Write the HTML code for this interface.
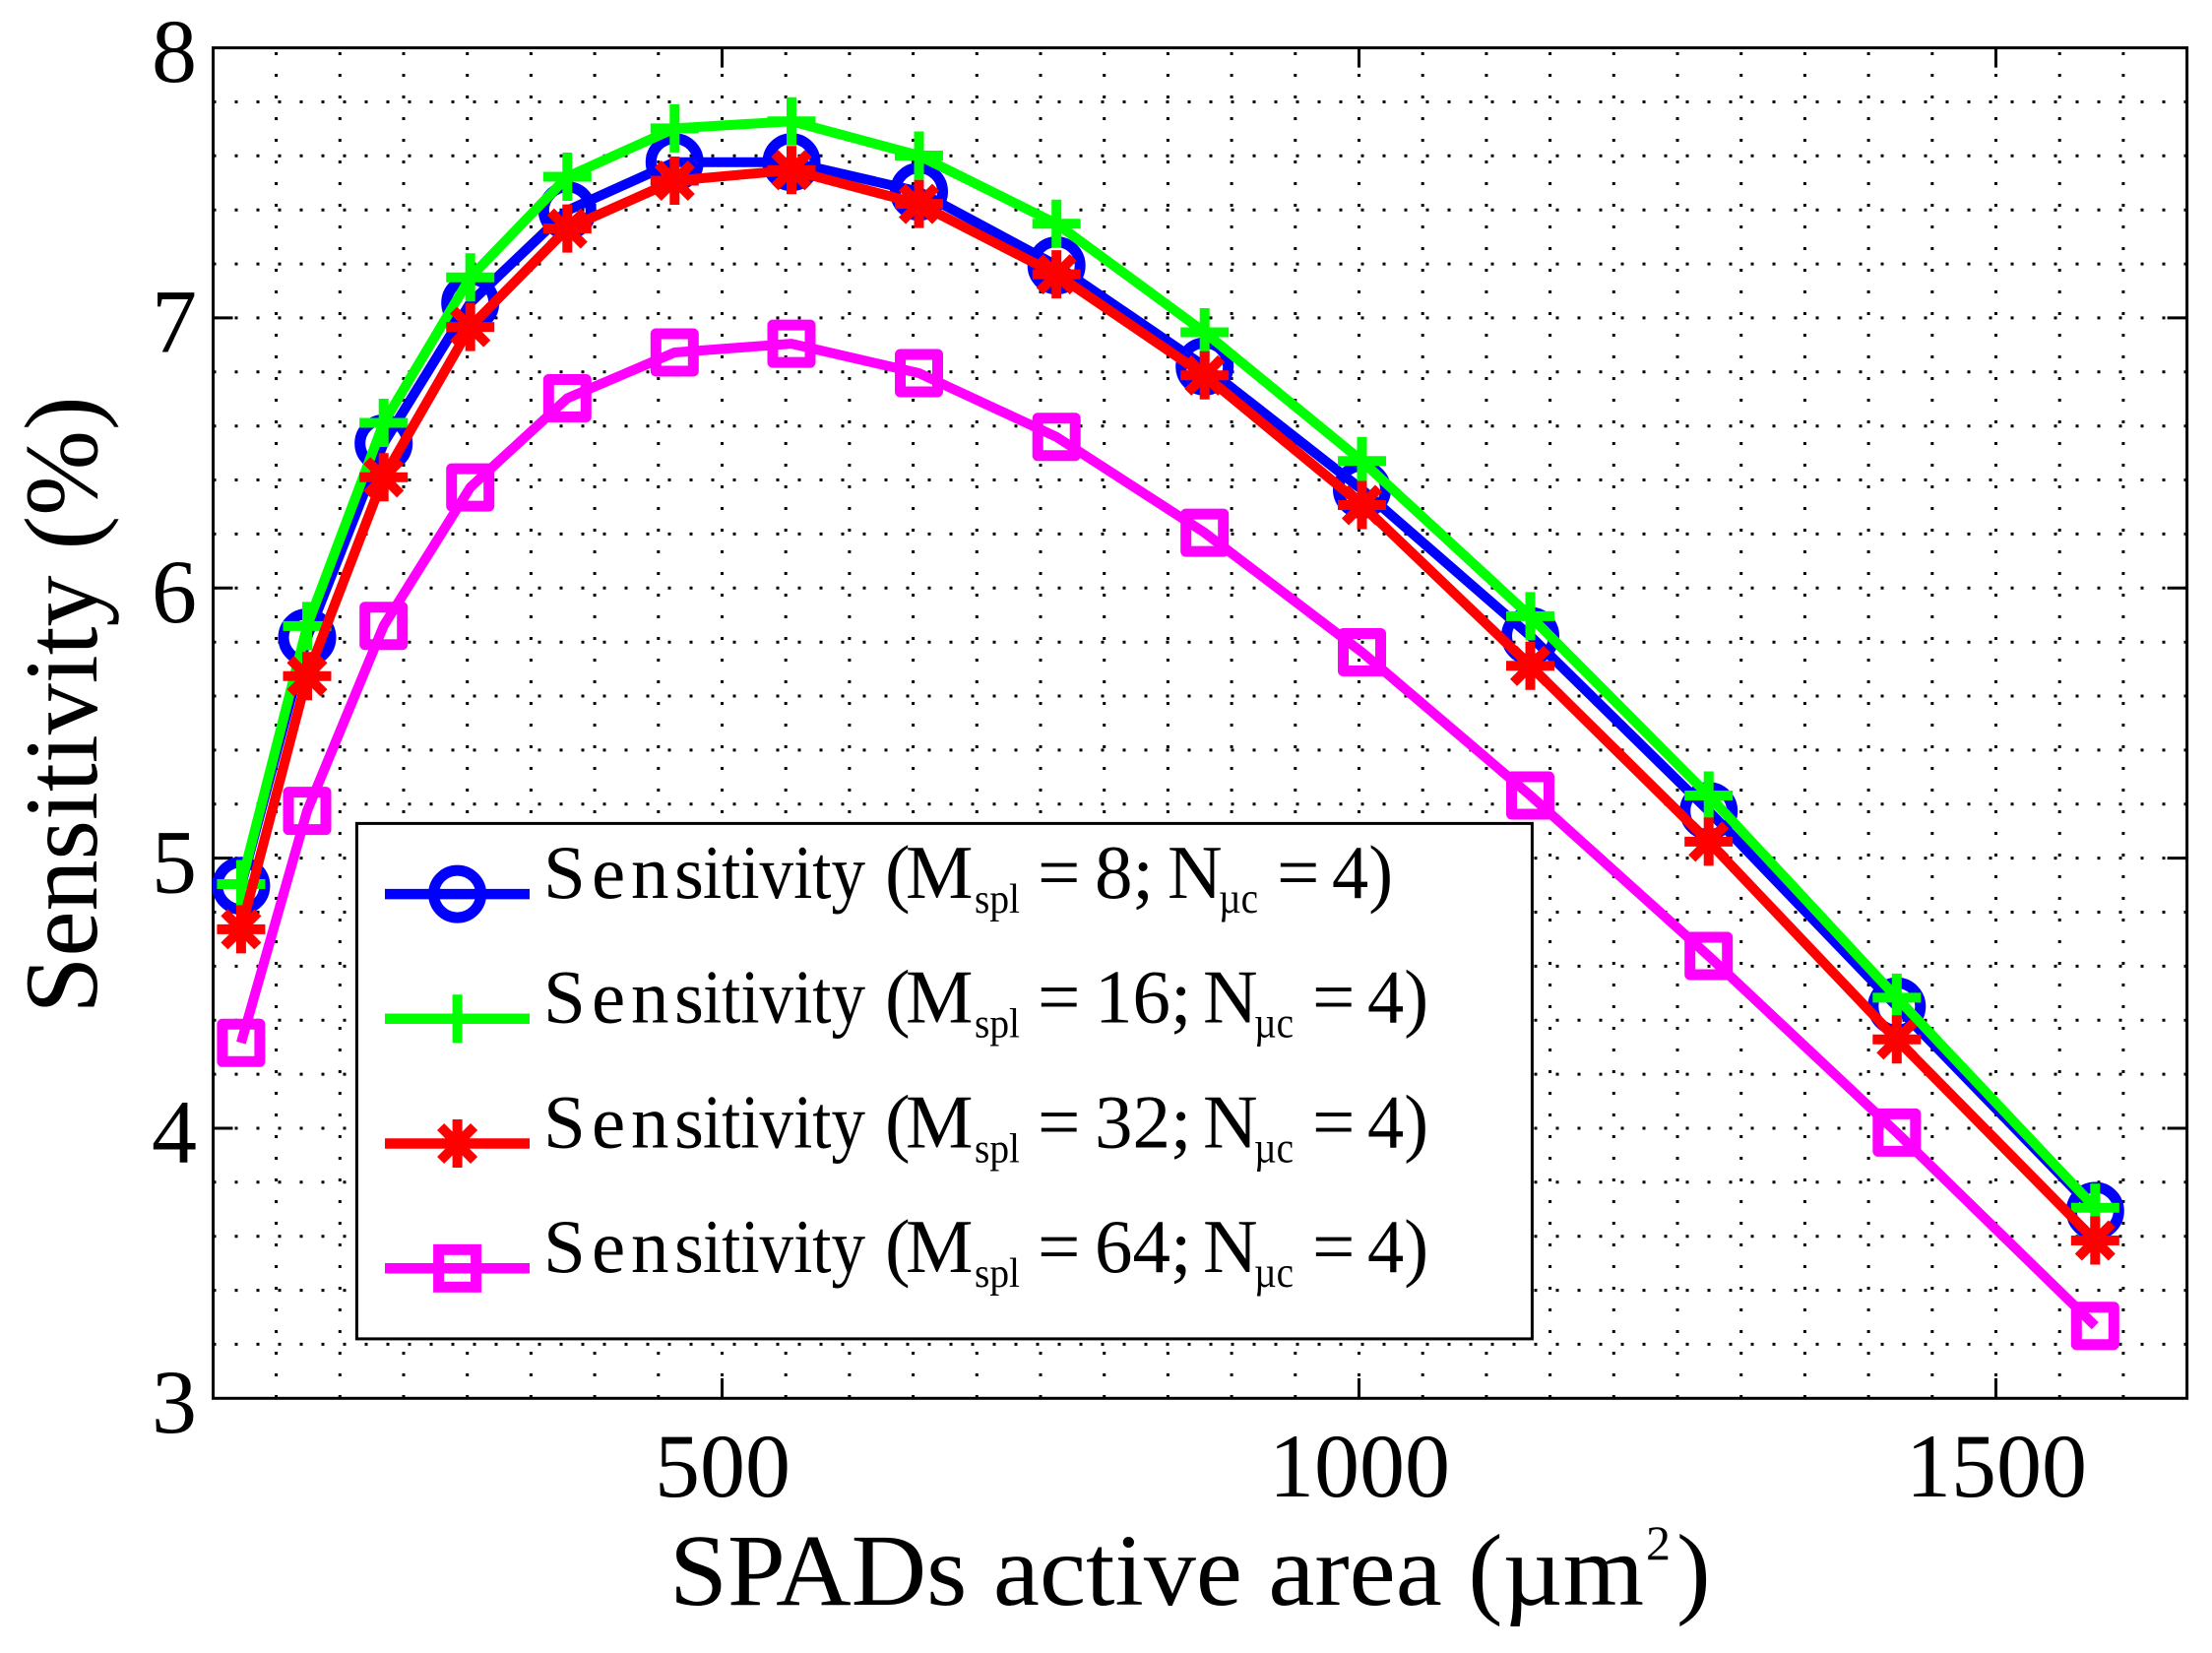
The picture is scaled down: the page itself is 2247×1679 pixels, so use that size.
<!DOCTYPE html>
<html><head><meta charset="utf-8"><style>
html,body{margin:0;padding:0;background:#fff;}
svg{display:block;}
text{font-family:"Liberation Serif","Times New Roman",serif;fill:#000;}
</style></head><body>
<svg xmlns="http://www.w3.org/2000/svg" width="2247" height="1679" viewBox="0 0 2247 1679">
<defs>
<circle id="mc" r="24" fill="none" stroke-width="11"/>
<path id="mp" d="M-24.5 0H24.5M0-24.5V24.5" fill="none" stroke-width="10"/>
<path id="ms" d="M-24.5 0H24.5M0-24.5V24.5M-17-17L17 17M-17 17L17-17" fill="none" stroke-width="10"/>
<rect id="mq" x="-19" y="-19" width="38" height="38" fill="none" stroke-width="11"/>
</defs>
<rect width="2247" height="1679" fill="#fff"/>
<!-- grid -->
<g stroke="#000" stroke-width="3" stroke-dasharray="3 19" fill="none">
<path d="M280.6 1420V49M345.3 1420V49M410 1420V49M474.7 1420V49M539.4 1420V49M604.1 1420V49M668.8 1420V49M733.5 1420V49M798.2 1420V49M862.9 1420V49M927.6 1420V49M992.3 1420V49M1057 1420V49M1121.7 1420V49M1186.4 1420V49M1251.1 1420V49M1315.8 1420V49M1380.5 1420V49M1445.2 1420V49M1509.9 1420V49M1574.6 1420V49M1639.3 1420V49M1704 1420V49M1768.7 1420V49M1833.4 1420V49M1898.1 1420V49M1962.8 1420V49M2027.5 1420V49M2092.2 1420V49M2156.9 1420V49"/>
<path d="M216.5 1365.4H2221M216.5 1310.6H2221M216.5 1255.7H2221M216.5 1200.8H2221M216.5 1146H2221M216.5 1091.1H2221M216.5 1036.2H2221M216.5 981.4H2221M216.5 926.5H2221M216.5 871.6H2221M216.5 816.8H2221M216.5 761.9H2221M216.5 707H2221M216.5 652.2H2221M216.5 597.3H2221M216.5 542.4H2221M216.5 487.5H2221M216.5 432.7H2221M216.5 377.8H2221M216.5 322.9H2221M216.5 268.1H2221M216.5 213.2H2221M216.5 158.3H2221M216.5 103.5H2221"/>
</g>
<!-- axes frame and ticks -->
<rect x="216.5" y="48.6" width="2005.1" height="1371.7" fill="none" stroke="#000" stroke-width="3"/>
<g stroke="#000" stroke-width="3">
<path d="M733.5 1420V1400M1380.5 1420V1400M2027.5 1420V1400M733.5 48.6V68.6M1380.5 48.6V68.6M2027.5 48.6V68.6"/>
<path d="M216.5 1146H236.5M216.5 871.6H236.5M216.5 597.3H236.5M216.5 322.9H236.5M2221.6 1146H2201.6M2221.6 871.6H2201.6M2221.6 597.3H2201.6M2221.6 322.9H2201.6"/>
</g>
<!-- tick labels -->
<g font-size="92" text-anchor="end">
<text x="200" y="1455">3</text>
<text x="200" y="1181">4</text>
<text x="200" y="906.5">5</text>
<text x="200" y="632">6</text>
<text x="200" y="357.5">7</text>
<text x="200" y="83">8</text>
</g>
<g font-size="92" text-anchor="middle">
<text x="734" y="1520">500</text>
<text x="1381" y="1520">1000</text>
<text x="2028" y="1520">1500</text>
</g>
<!-- axis labels -->
<text x="680" y="1630" font-size="104" textLength="990" lengthAdjust="spacingAndGlyphs">SPADs active area (µm</text>
<text x="1672" y="1584" font-size="50">2</text>
<text x="1703" y="1630" font-size="104">)</text>
<text transform="translate(98,716) rotate(-90)" text-anchor="middle" font-size="106" textLength="627" lengthAdjust="spacingAndGlyphs">Sensitivity (%)</text>
<!-- series -->
<g fill="none" stroke-linejoin="round">
<polyline stroke="#0000ff" stroke-width="10" points="244.9,899.7 312,647.5 389.7,450.4 477.7,307.6 576.3,213.8 685.3,164.7 804,164.7 933.5,194.6 1073.2,269.6 1223.7,372.3 1383.5,497.3 1554.5,646 1735.7,823.7 1926.8,1022.3 2128.3,1230"/>
<g stroke="#0000ff">
<use href="#mc" x="244.9" y="899.7"/><use href="#mc" x="312" y="647.5"/><use href="#mc" x="389.7" y="450.4"/><use href="#mc" x="477.7" y="307.6"/><use href="#mc" x="576.3" y="213.8"/><use href="#mc" x="685.3" y="164.7"/><use href="#mc" x="804" y="164.7"/><use href="#mc" x="933.5" y="194.6"/><use href="#mc" x="1073.2" y="269.6"/><use href="#mc" x="1223.7" y="372.3"/><use href="#mc" x="1383.5" y="497.3"/><use href="#mc" x="1554.5" y="646"/><use href="#mc" x="1735.7" y="823.7"/><use href="#mc" x="1926.8" y="1022.3"/><use href="#mc" x="2128.3" y="1230"/>
</g>
<polyline stroke="#00ff00" stroke-width="10" points="244.9,898 312,635.9 389.7,429.5 477.7,281.7 576.3,179.5 685.3,130.4 804,123.2 933.5,158 1073.2,227.2 1223.7,337.5 1383.5,468.3 1554.5,625.9 1735.7,808 1926.8,1013.4 2128.3,1226.7"/>
<g stroke="#00ff00">
<use href="#mp" x="244.9" y="898"/><use href="#mp" x="312" y="635.9"/><use href="#mp" x="389.7" y="429.5"/><use href="#mp" x="477.7" y="281.7"/><use href="#mp" x="576.3" y="179.5"/><use href="#mp" x="685.3" y="130.4"/><use href="#mp" x="804" y="123.2"/><use href="#mp" x="933.5" y="158"/><use href="#mp" x="1073.2" y="227.2"/><use href="#mp" x="1223.7" y="337.5"/><use href="#mp" x="1383.5" y="468.3"/><use href="#mp" x="1554.5" y="625.9"/><use href="#mp" x="1735.7" y="808"/><use href="#mp" x="1926.8" y="1013.4"/><use href="#mp" x="2128.3" y="1226.7"/>
</g>
<polyline stroke="#ff0000" stroke-width="10" points="244.9,943.9 312,686.8 389.7,484.8 477.7,332.1 576.3,232.1 685.3,183.5 804,172.8 933.5,207.1 1073.2,278.6 1223.7,381.3 1383.5,513 1554.5,676.3 1735.7,854.9 1926.8,1055.8 2128.3,1260"/>
<g stroke="#ff0000">
<use href="#ms" x="244.9" y="943.9"/><use href="#ms" x="312" y="686.8"/><use href="#ms" x="389.7" y="484.8"/><use href="#ms" x="477.7" y="332.1"/><use href="#ms" x="576.3" y="232.1"/><use href="#ms" x="685.3" y="183.5"/><use href="#ms" x="804" y="172.8"/><use href="#ms" x="933.5" y="207.1"/><use href="#ms" x="1073.2" y="278.6"/><use href="#ms" x="1223.7" y="381.3"/><use href="#ms" x="1383.5" y="513"/><use href="#ms" x="1554.5" y="676.3"/><use href="#ms" x="1735.7" y="854.9"/><use href="#ms" x="1926.8" y="1055.8"/><use href="#ms" x="2128.3" y="1260"/>
</g>
<polyline stroke="#ff00ff" stroke-width="10" points="244.9,1059.3 312,823.6 389.7,635.7 477.7,495.1 576.3,404.5 685.3,358 804,349.1 933.5,379 1073.2,443.8 1223.7,541.1 1383.5,662.5 1554.5,808 1735.7,971 1926.8,1150.4 2128.3,1346.7"/>
<g stroke="#ff00ff">
<use href="#mq" x="244.9" y="1059.3"/><use href="#mq" x="312" y="823.6"/><use href="#mq" x="389.7" y="635.7"/><use href="#mq" x="477.7" y="495.1"/><use href="#mq" x="576.3" y="404.5"/><use href="#mq" x="685.3" y="358"/><use href="#mq" x="804" y="349.1"/><use href="#mq" x="933.5" y="379"/><use href="#mq" x="1073.2" y="443.8"/><use href="#mq" x="1223.7" y="541.1"/><use href="#mq" x="1383.5" y="662.5"/><use href="#mq" x="1554.5" y="808"/><use href="#mq" x="1735.7" y="971"/><use href="#mq" x="1926.8" y="1150.4"/><use href="#mq" x="2128.3" y="1346.7"/>
</g>
</g>
<!-- legend -->
<rect x="362.4" y="836.4" width="1194" height="523.5" fill="#fff" stroke="#000" stroke-width="3"/>
<g fill="none">
<path d="M391 908.1H538" stroke="#0000ff" stroke-width="10.5"/>
<use href="#mc" x="464.6" y="908.1" stroke="#0000ff"/>
<path d="M391 1034.8H538" stroke="#00ff00" stroke-width="10.5"/>
<use href="#mp" x="464.6" y="1034.8" stroke="#00ff00"/>
<path d="M391 1161.5H538" stroke="#ff0000" stroke-width="10.5"/>
<use href="#ms" x="464.6" y="1161.5" stroke="#ff0000"/>
<path d="M391 1288.3H538" stroke="#ff00ff" stroke-width="10.5"/>
<use href="#mq" x="464.6" y="1288.3" stroke="#ff00ff"/>
</g>
<g font-size="77">
<!-- row 1 -->
<text x="552" y="912">S</text><text x="601" y="912">e</text><text x="641" y="912">n</text><text x="685" y="912">s</text>
<text x="714" y="912" textLength="165" lengthAdjust="spacingAndGlyphs">itivity</text>
<text x="899" y="912">(</text>
<text x="920" y="912">M</text>
<text x="990" y="927" font-size="42" textLength="46" lengthAdjust="spacingAndGlyphs">spl</text>
<text x="1054" y="912">=</text>
<text x="1112" y="912">8;</text>
<text x="1186" y="912">N</text>
<text x="1238" y="927" font-size="44" textLength="40" lengthAdjust="spacingAndGlyphs">µc</text>
<text x="1297" y="912">=</text>
<text x="1353" y="912" textLength="62" lengthAdjust="spacingAndGlyphs">4)</text>
<!-- row 2 -->
<text x="552" y="1038.7">S</text><text x="601" y="1038.7">e</text><text x="641" y="1038.7">n</text><text x="685" y="1038.7">s</text>
<text x="714" y="1038.7" textLength="165" lengthAdjust="spacingAndGlyphs">itivity</text>
<text x="899" y="1038.7">(</text>
<text x="920" y="1038.7">M</text>
<text x="990" y="1053.7" font-size="42" textLength="46" lengthAdjust="spacingAndGlyphs">spl</text>
<text x="1054" y="1038.7">=</text>
<text x="1112" y="1038.7">16;</text>
<text x="1222" y="1038.7">N</text>
<text x="1274" y="1053.7" font-size="44" textLength="40" lengthAdjust="spacingAndGlyphs">µc</text>
<text x="1333" y="1038.7">=</text>
<text x="1389" y="1038.7" textLength="62" lengthAdjust="spacingAndGlyphs">4)</text>
<!-- row 3 -->
<text x="552" y="1165.4">S</text><text x="601" y="1165.4">e</text><text x="641" y="1165.4">n</text><text x="685" y="1165.4">s</text>
<text x="714" y="1165.4" textLength="165" lengthAdjust="spacingAndGlyphs">itivity</text>
<text x="899" y="1165.4">(</text>
<text x="920" y="1165.4">M</text>
<text x="990" y="1180.4" font-size="42" textLength="46" lengthAdjust="spacingAndGlyphs">spl</text>
<text x="1054" y="1165.4">=</text>
<text x="1112" y="1165.4">32;</text>
<text x="1222" y="1165.4">N</text>
<text x="1274" y="1180.4" font-size="44" textLength="40" lengthAdjust="spacingAndGlyphs">µc</text>
<text x="1333" y="1165.4">=</text>
<text x="1389" y="1165.4" textLength="62" lengthAdjust="spacingAndGlyphs">4)</text>
<!-- row 4 -->
<text x="552" y="1292.2">S</text><text x="601" y="1292.2">e</text><text x="641" y="1292.2">n</text><text x="685" y="1292.2">s</text>
<text x="714" y="1292.2" textLength="165" lengthAdjust="spacingAndGlyphs">itivity</text>
<text x="899" y="1292.2">(</text>
<text x="920" y="1292.2">M</text>
<text x="990" y="1307.2" font-size="42" textLength="46" lengthAdjust="spacingAndGlyphs">spl</text>
<text x="1054" y="1292.2">=</text>
<text x="1112" y="1292.2">64;</text>
<text x="1222" y="1292.2">N</text>
<text x="1274" y="1307.2" font-size="44" textLength="40" lengthAdjust="spacingAndGlyphs">µc</text>
<text x="1333" y="1292.2">=</text>
<text x="1389" y="1292.2" textLength="62" lengthAdjust="spacingAndGlyphs">4)</text>
</g>
</svg>
</body></html>
